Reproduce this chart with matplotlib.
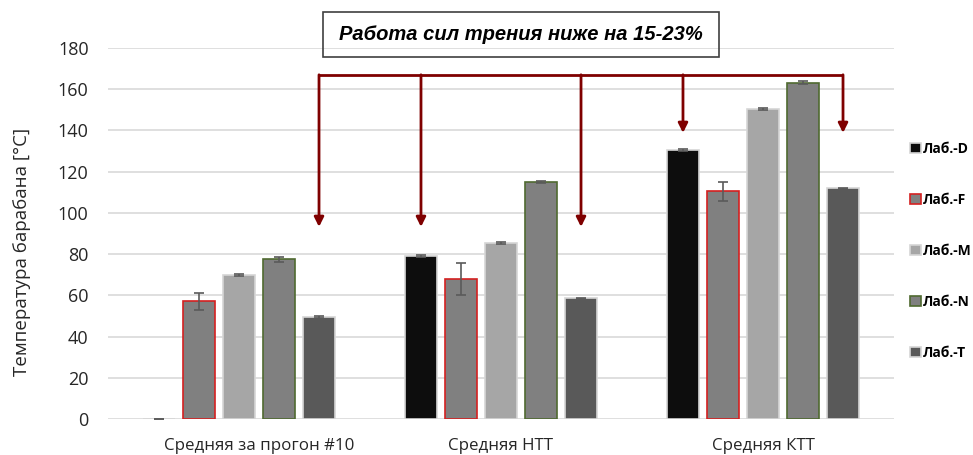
import matplotlib
matplotlib.use("Agg")
import matplotlib.pyplot as plt
from matplotlib.patches import Rectangle
from matplotlib.transforms import ScaledTranslation
import numpy as np

plt.rcParams['font.family'] = ['Open Sans', 'DejaVu Sans']

categories = ["Средняя за прогон #10", "Средняя НТТ", "Средняя КТТ"]
series = ["Лаб.-D", "Лаб.-F", "Лаб.-M", "Лаб.-N", "Лаб.-T"]
values = {
    "Лаб.-D": [0.0, 79.1, 130.4],
    "Лаб.-F": [57.1, 68.1, 110.4],
    "Лаб.-M": [70.0, 85.3, 150.3],
    "Лаб.-N": [77.6, 114.8, 163.1],
    "Лаб.-T": [49.4, 58.5, 111.9],
}
errors = {
    "Лаб.-D": [0.0, 0.5, 0.6],
    "Лаб.-F": [4.0, 7.8, 4.5],
    "Лаб.-M": [0.5, 0.6, 0.6],
    "Лаб.-N": [1.2, 0.5, 0.8],
    "Лаб.-T": [0.5, 0.4, 0.4],
}
y_ticks = [0, 20, 40, 60, 80, 100, 120, 140, 160, 180]
title_text = "Работа сил трения ниже на 15-23%"
y_label = "Температура барабана [°C]"

fills = ["#0d0d0d", "#808080", "#a6a6a6", "#808080", "#595959"]
edges = ["#d6d6d6", "#d42020", "#d6d6d6", "#4f6a30", "#d6d6d6"]

fig = plt.figure(figsize=(9.73, 4.55), dpi=100)
ax = fig.add_axes([108 / 973, 36 / 455, 786 / 973, 371 / 455])

step = 0.1527
width = 0.122
x = np.arange(len(categories))
centers = {}
for i, s in enumerate(series):
    pos = x + (i - 2) * step
    centers[s] = pos
    ax.bar(pos, values[s], width=width, color=fills[i], edgecolor=edges[i],
           linewidth=1.2, label=s, zorder=3)
    ax.errorbar(pos, values[s], yerr=errors[s], fmt="none", ecolor="#5a5a5a",
                elinewidth=1.2, capsize=3.5, capthick=1.2, zorder=4)

ax.set_xlim(-0.5, 2.5)
ax.set_ylim(0, 180)
ax.set_yticks(y_ticks)
ax.set_xticks(x)
ax.set_xticklabels(categories, fontsize=12.2, color="#262626")
ax.tick_params(axis="y", labelsize=13, colors="#262626", length=0, pad=14)
ax.tick_params(axis="x", length=0, pad=14)
# first category label sits a little right of its group
first = ax.get_xticklabels()[0]
first.set_transform(first.get_transform() + ScaledTranslation(0.2, 0, fig.dpi_scale_trans))
ax.yaxis.grid(True, color="#d9d9d9", linewidth=1.2, zorder=0)
ax.set_axisbelow(True)
for sp in ax.spines.values():
    sp.set_visible(False)

fig.text(22 / 973, (455 - 252) / 455, y_label, rotation=90, ha="center",
         va="center", fontsize=13.5, color="#262626")

# Comparison arrows from the common bracket down to the D and T bars
bracket_y = 167
arrow_color = "#7f0000"
targets = [
    (centers["Лаб.-T"][0], 93.2),
    (centers["Лаб.-D"][1], 93.2),
    (centers["Лаб.-T"][1], 93.2),
    (centers["Лаб.-D"][2], 138.8),
    (centers["Лаб.-T"][2], 138.8),
]
xs = [t[0] for t in targets]
ax.plot([min(xs), max(xs)], [bracket_y, bracket_y], color=arrow_color,
        linewidth=2, zorder=5, solid_capstyle="butt")
for tx, ty in targets:
    ax.annotate("", xy=(tx, ty), xytext=(tx, bracket_y),
                arrowprops=dict(arrowstyle="-|>", color=arrow_color, lw=2,
                                mutation_scale=14, shrinkA=0, shrinkB=0),
                zorder=5)

# Title box
fig.patches.append(Rectangle((323 / 973, (455 - 57) / 455), 396 / 973, 45 / 455,
                             transform=fig.transFigure, fill=False,
                             edgecolor="#404040", linewidth=1.2))
fig.text(521 / 973, (455 - 34) / 455, title_text, ha="center", va="center",
         fontsize=14.5, fontweight="bold", fontstyle="italic", color="black",
         family=["Liberation Sans", "DejaVu Sans"])

leg = fig.legend(loc="upper left", bbox_to_anchor=(910 / 973, (455 - 142) / 455),
                 frameon=False, prop={"size": 10, "weight": "bold"},
                 handlelength=0.8, handleheight=0.8, handletextpad=0.15,
                 labelspacing=2.66, borderpad=0, borderaxespad=0)

fig.savefig("out.png", dpi=100)
